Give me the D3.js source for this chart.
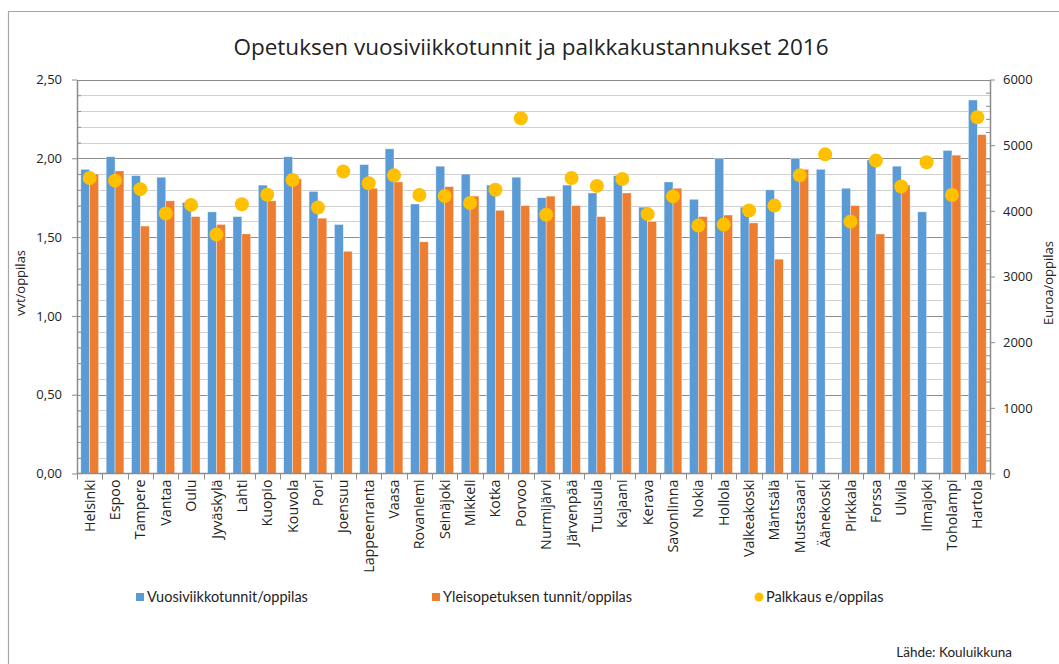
<!DOCTYPE html>
<html>
<head>
<meta charset="utf-8">
<script src="https://cdn.jsdelivr.net/npm/d3@7"></script>
<style>
  body { margin: 0; background: #fff; }
  svg text { font-family: "Open Sans", sans-serif; fill: #222; }
</style>
</head>
<body>
<svg id="chart" width="1059" height="664"></svg>
<script>
// data
const cities = ["Helsinki", "Espoo", "Tampere", "Vantaa", "Oulu", "Jyväskylä", "Lahti", "Kuopio", "Kouvola", "Pori",
  "Joensuu", "Lappeenranta", "Vaasa", "Rovaniemi", "Seinäjoki", "Mikkeli", "Kotka", "Porvoo", "Nurmijärvi", "Järvenpää",
  "Tuusula", "Kajaani", "Kerava", "Savonlinna", "Nokia", "Hollola", "Valkeakoski", "Mäntsälä", "Mustasaari", "Äänekoski",
  "Pirkkala", "Forssa", "Ulvila", "Ilmajoki", "Toholampi", "Hartola"];
const vuosiviikko = [1.93, 2.01, 1.89, 1.88, 1.72, 1.66, 1.63, 1.83, 2.01, 1.79,
  1.58, 1.96, 2.06, 1.71, 1.95, 1.90, 1.83, 1.88, 1.75, 1.83,
  1.78, 1.89, 1.69, 1.85, 1.74, 2.00, 1.69, 1.80, 2.00, 1.93,
  1.81, 1.99, 1.95, 1.66, 2.05, 2.37];
const yleisopetus = [1.90, 1.92, 1.57, 1.73, 1.63, 1.58, 1.52, 1.73, 1.87, 1.62,
  1.41, 1.81, 1.85, 1.47, 1.82, 1.76, 1.67, 1.70, 1.76, 1.70,
  1.63, 1.78, 1.60, 1.81, 1.63, 1.64, 1.59, 1.36, 1.93, null,
  1.70, 1.52, 1.83, null, 2.02, 2.15];
const palkkaus = [4500, 4460, 4330, 3960, 4090, 3640, 4100, 4245, 4470, 4050,
  4600, 4420, 4540, 4240, 4225, 4120, 4320, 5410, 3940, 4500,
  4380, 4485, 3950, 4220, 3775, 3790, 4005, 4080, 4540, 4860,
  3835, 4765, 4370, 4740, 4240, 5425];
const leftTicks = [0, 0.5, 1, 1.5, 2, 2.5];
const rightTicks = [0, 1000, 2000, 3000, 4000, 5000, 6000];
const seriesNames = ["Vuosiviikkotunnit/oppilas", "Yleisopetuksen tunnit/oppilas", "Palkkaus e/oppilas"];
const colors = ["#5b9bd5", "#ed7d31", "#ffc000"];

const svg = d3.select("#chart");
const margin = {top: 79.5, right: 69, bottom: 190.5, left: 77};
const width = 1059, height = 664;

// outer frame
svg.append("path")
  .attr("d", "M8.5,664 V11.5 H1059")
  .attr("fill", "none").attr("stroke", "#a6a6a6").attr("stroke-width", 1.2);

const x = d3.scaleBand().domain(cities).range([margin.left, width - margin.right]);
const xs = d3.scaleBand().domain([0, 1]).range([0, x.bandwidth()]).paddingOuter(0.43);
const y = d3.scaleLinear().domain([0, 2.5]).range([height - margin.bottom, margin.top]);
const y2 = d3.scaleLinear().domain([0, 6000]).range([height - margin.bottom, margin.top]);

// gridlines: minor every 0.1, major every 0.5
const minor = d3.range(1, 25).map(d => d / 10).filter(d => Math.round(d * 10) % 5 !== 0);
svg.append("g").selectAll("line").data(minor).join("line")
  .attr("x1", margin.left).attr("x2", width - margin.right)
  .attr("y1", d => Math.round(y(d)) + 0.5).attr("y2", d => Math.round(y(d)) + 0.5)
  .attr("stroke", "#d0d0d0").attr("stroke-width", 1);
svg.append("g").selectAll("line").data(leftTicks.slice(1)).join("line")
  .attr("x1", margin.left).attr("x2", width - margin.right)
  .attr("y1", d => Math.round(y(d)) + 0.5).attr("y2", d => Math.round(y(d)) + 0.5)
  .attr("stroke", "#8c8c8c").attr("stroke-width", 1);

// bars
const bars = svg.append("g");
[vuosiviikko, yleisopetus].forEach((vals, i) => {
  bars.append("g").selectAll("rect")
    .data(cities.map((c, j) => ({c, v: vals[j]})).filter(d => d.v != null))
    .join("rect")
    .attr("x", d => x(d.c) + xs(i))
    .attr("width", xs.bandwidth())
    .attr("y", d => y(d.v))
    .attr("height", d => y(0) - y(d.v))
    .attr("fill", colors[i])
    .attr("stroke", "#fff").attr("stroke-width", 0.6).attr("stroke-opacity", 0.6);
});

// dots (secondary axis)
svg.append("g").selectAll("circle")
  .data(cities.map((c, j) => ({c, v: palkkaus[j]})))
  .join("circle")
  .attr("cx", d => x(d.c) + x.bandwidth() / 2)
  .attr("cy", d => y2(d.v))
  .attr("r", 7)
  .attr("fill", colors[2]);

// axes
const fmt = d => d.toFixed(2).replace(".", ",");
const axisStyle = g => {
  g.select(".domain").attr("stroke", "#8c8c8c").attr("stroke-width", 1.5);
  g.selectAll(".tick line").attr("stroke", "#8c8c8c");
  g.selectAll("text").attr("font-size", 13).attr("fill", "#222");
};
svg.append("g").attr("transform", `translate(${margin.left},0)`)
  .call(d3.axisLeft(y).tickValues(minor).tickSize(-4).tickFormat("").tickSizeOuter(0))
  .call(g => g.select(".domain").remove())
  .call(g => g.selectAll("line").attr("stroke", "#8c8c8c"));
svg.append("g").attr("transform", `translate(${margin.left},0)`)
  .call(d3.axisLeft(y).tickValues(leftTicks).tickFormat(fmt).tickSize(5).tickPadding(10).tickSizeOuter(0))
  .call(axisStyle);

const rightMinor = d3.range(200, 6000, 200).filter(d => d % 1000 !== 0);
svg.append("g").attr("transform", `translate(${width - margin.right},0)`)
  .call(d3.axisRight(y2).tickValues(rightMinor).tickSize(-4).tickFormat("").tickSizeOuter(0))
  .call(g => g.select(".domain").remove())
  .call(g => g.selectAll("line").attr("stroke", "#8c8c8c"));
svg.append("g").attr("transform", `translate(${width - margin.right},0)`)
  .call(d3.axisRight(y2).tickValues(rightTicks).tickFormat(d3.format("d")).tickSize(5).tickPadding(8).tickSizeOuter(0))
  .call(axisStyle);

// x axis: ticks between categories
const xAxis = svg.append("g").attr("transform", `translate(0,${height - margin.bottom})`);
xAxis.append("line").attr("x1", margin.left).attr("x2", width - margin.right)
  .attr("stroke", "#8c8c8c").attr("stroke-width", 1.5);
xAxis.selectAll("line.tk").data(cities.concat([null])).join("line").attr("class", "tk")
  .attr("x1", (d, i) => Math.round(margin.left + i * x.step()) + 0.5)
  .attr("x2", (d, i) => Math.round(margin.left + i * x.step()) + 0.5)
  .attr("y1", 0).attr("y2", 6).attr("stroke", "#8c8c8c");
xAxis.selectAll("text").data(cities).join("text")
  .attr("transform", d => `translate(${x(d) + x.bandwidth() / 2},6) rotate(-90)`)
  .attr("text-anchor", "end").attr("dy", "0.35em")
  .attr("font-size", 14.3)
  .text(d => d);

// titles
svg.append("text").attr("x", 531).attr("y", 55).attr("text-anchor", "middle")
  .attr("font-size", 22.5).text("Opetuksen vuosiviikkotunnit ja palkkakustannukset 2016");
svg.append("text").attr("transform", "translate(25,283) rotate(-90)").attr("text-anchor", "middle")
  .attr("font-size", 13).text("vvt/oppilas");
svg.append("text").attr("transform", "translate(1053,283) rotate(-90)").attr("text-anchor", "middle")
  .attr("font-size", 13).text("Euroa/oppilas");

// legend
const legendX = [136, 432, 755];
const lg = svg.append("g");
seriesNames.forEach((name, i) => {
  if (i < 2) {
    lg.append("rect").attr("x", legendX[i]).attr("y", 593).attr("width", 8).attr("height", 8).attr("fill", colors[i]);
  } else {
    lg.append("circle").attr("cx", legendX[i] + 4).attr("cy", 597).attr("r", 4.5).attr("fill", colors[i]);
  }
  lg.append("text").attr("x", legendX[i] + 11).attr("y", 602).attr("font-size", 14.5)
    .style("font-family", "Lato, sans-serif").text(name);
});

svg.append("text").attr("x", 1012).attr("y", 657).attr("text-anchor", "end")
  .attr("font-size", 13.5).style("font-family", "Lato, sans-serif").text("Lähde: Kouluikkuna");
</script>
</body>
</html>
